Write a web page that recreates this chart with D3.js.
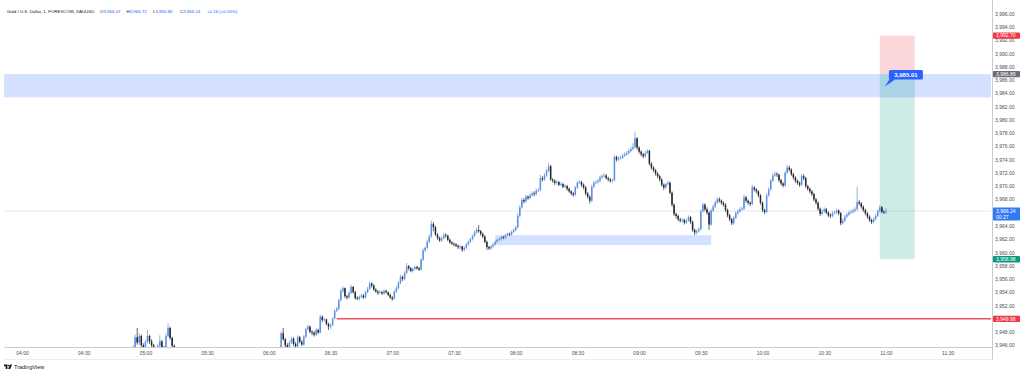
<!DOCTYPE html>
<html><head><meta charset="utf-8">
<script src="https://cdn.jsdelivr.net/npm/d3@7"></script>
<style>
html,body{margin:0;padding:0;background:#fff;}
svg{display:block;font-family:"Liberation Sans",Arial,sans-serif;}
</style></head><body>
<svg id="c" width="1024" height="374"></svg>
<script>
// ---------------- DATA ----------------
const title = "Gold / U.S. Dollar, 1, FOREXCOM_XAUUSD";
const ohlcLabels = ["O", "H", "L", "C"];
const ohlcValues = ["3,966.07", "3,966.72", "3,965.80", "3,966.24"];
const changeText = "+0.16 (+0.00%)";

const priceTicks = [3946,3948,3950,3952,3954,3956,3958,3960,3962,3964,3966,3968,3970,3972,3974,3976,3978,3980,3982,3984,3986,3988,3990,3992,3994,3996];
const timeTicks = ["04:00","04:30","05:00","05:30","06:00","06:30","07:00","07:30","08:00","08:30","09:00","09:30","10:00","10:30","11:00","11:30"];

// segment 1: 1-minute candles from 04:54 (mostly below the visible range)
const seg1Start = "04:54";
const seg1Open = 3943.5;
const seg1Close = [3945.6,3947.2,3946.4,3947.4,3946.0,3945.2,3946.5,3947.4,3946.6,3946.0,3944.6,3944.9,3945.9,3946.6,3945.6,3945.0,3947.4,3948.6,3947.1,3945.9,3944.8];
const seg1High  = [3946.0,3947.6,3948.6,3947.8,3947.6,3946.3,3946.8,3948.3,3947.6,3946.9,3946.2,3945.5,3946.2,3947.5,3946.8,3945.9,3947.8,3949.3,3948.8,3947.3,3946.1];
const seg1Low   = [3943.2,3945.3,3946.1,3946.0,3945.6,3944.8,3945.0,3946.3,3946.2,3945.6,3944.2,3944.3,3944.7,3945.6,3945.1,3944.7,3944.9,3947.2,3946.8,3945.6,3944.4];

// segment 2: 1-minute candles from 06:06 to 11:00
const seg2Start = "06:06";
const seg2Open = 3945.2;
const seg2Close = [
3947.8,3946.9,3946.0,3945.5,3946.4,3947.0,3946.2,3945.8,3947.2,3946.5,
3946.1,3947.3,3948.4,3948.8,3948.0,3947.9,3947.6,3948.3,3947.9,3950.3,
3949.8,3949.9,3949.2,3948.8,3949.0,3950.0,3951.2,3951.5,3952.8,3954.2,
3954.6,3953.4,3953.2,3953.9,3954.8,3954.0,3953.1,3953.0,3953.3,3953.5,
3953.2,3954.0,3954.5,3955.3,3955.0,3954.4,3954.1,3953.9,3954.0,3953.8,
3954.2,3954.0,3953.6,3953.2,3953.0,3954.1,3954.6,3955.4,3956.3,3956.0,
3956.9,3957.9,3957.6,3957.2,3957.5,3957.8,3957.6,3957.4,3958.9,3960.3,
3960.7,3961.6,3962.4,3964.3,3963.8,3962.7,3962.2,3961.8,3962.1,3962.6,
3962.5,3961.9,3961.5,3961.3,3961.2,3961.0,3960.8,3960.9,3960.4,3960.7,
3961.2,3961.6,3962.0,3962.5,3963.0,3963.4,3963.2,3962.8,3962.4,3961.6,
3960.8,3960.6,3960.9,3961.2,3961.6,3961.9,3962.0,3962.3,3962.2,3962.6,
3962.8,3962.7,3963.1,3963.4,3963.8,3965.5,3966.8,3967.9,3967.7,3968.4,
3968.2,3968.6,3968.9,3968.8,3969.3,3969.4,3971.2,3971.0,3971.6,3972.3,
3973.0,3971.0,3970.8,3970.5,3970.6,3970.2,3970.3,3969.9,3970.0,3969.6,
3969.2,3968.9,3968.7,3969.8,3970.5,3970.6,3970.2,3969.8,3968.9,3968.4,
3967.8,3969.9,3970.5,3970.6,3970.8,3971.3,3971.5,3971.6,3971.2,3971.0,
3970.8,3970.9,3974.4,3974.0,3974.2,3974.3,3974.6,3974.8,3975.0,3975.3,
3975.6,3975.9,3977.2,3975.8,3975.2,3974.8,3974.5,3975.0,3975.3,3973.4,
3972.8,3972.4,3971.9,3971.5,3971.0,3970.2,3969.8,3970.3,3970.5,3969.0,
3967.2,3965.8,3965.5,3965.0,3964.8,3964.9,3964.5,3964.8,3965.3,3964.6,
3963.4,3963.0,3963.2,3963.5,3966.2,3967.2,3966.5,3966.0,3964.2,3966.3,
3966.9,3967.5,3968.0,3967.8,3967.5,3967.2,3966.4,3965.6,3965.0,3964.4,
3965.2,3965.9,3966.2,3966.5,3966.6,3968.3,3967.8,3967.5,3967.3,3969.8,
3969.5,3969.2,3968.6,3967.5,3966.4,3966.1,3968.6,3969.5,3970.8,3971.6,
3971.8,3971.7,3970.9,3970.4,3970.1,3972.0,3972.8,3972.5,3971.8,3971.3,
3970.8,3970.5,3970.2,3971.5,3971.2,3970.0,3969.6,3969.2,3968.8,3968.0,
3967.5,3966.6,3965.8,3966.2,3966.5,3966.0,3965.6,3965.5,3965.9,3966.0,
3966.3,3965.9,3964.4,3964.8,3965.4,3965.7,3966.0,3966.1,3966.3,3966.5,
3967.6,3967.4,3966.9,3966.4,3965.9,3965.4,3964.9,3964.6,3965.0,3965.5,
3966.2,3966.8,3966.1,3966.07,3966.24];
const seg2High = [
3948.1,3948.6,3947.1,3946.3,3946.7,3947.3,3947.2,3946.5,3947.5,3947.4,
3946.8,3947.5,3948.6,3949.1,3949.0,3948.3,3948.1,3948.6,3948.5,3950.6,
3950.5,3950.2,3950.0,3949.4,3949.3,3950.2,3951.4,3951.8,3953.0,3954.5,
3954.9,3954.7,3953.6,3954.2,3955.1,3954.9,3954.2,3953.4,3953.5,3953.8,
3953.7,3954.2,3954.8,3955.6,3955.5,3955.2,3954.6,3954.3,3954.3,3954.2,
3954.4,3954.4,3954.1,3953.8,3953.4,3954.3,3954.9,3955.7,3956.6,3956.5,
3957.2,3958.4,3958.1,3957.8,3957.7,3958.0,3958.0,3957.8,3959.1,3960.6,
3960.9,3961.9,3962.7,3964.8,3964.6,3964.0,3962.9,3962.4,3962.4,3962.9,
3962.9,3962.7,3962.1,3961.7,3961.5,3961.4,3961.2,3961.1,3961.0,3960.9,
3961.4,3961.8,3962.2,3962.7,3963.3,3963.7,3964.1,3963.4,3963.0,3962.6,
3961.8,3961.0,3961.1,3961.4,3961.8,3962.1,3962.2,3962.5,3962.5,3962.8,
3963.0,3963.0,3963.3,3963.6,3964.0,3965.9,3967.1,3968.2,3968.2,3968.7,
3968.6,3968.9,3969.2,3969.2,3969.6,3969.7,3971.7,3971.5,3971.9,3972.6,
3973.4,3973.2,3971.2,3971.0,3970.9,3970.8,3970.6,3970.5,3970.3,3970.2,
3969.8,3969.4,3969.1,3970.0,3970.8,3970.9,3970.8,3970.4,3970.0,3969.1,
3968.6,3970.2,3970.8,3970.9,3971.1,3971.6,3971.8,3971.9,3971.8,3971.4,
3971.2,3971.1,3974.7,3974.6,3974.5,3974.6,3974.9,3975.1,3975.3,3975.6,
3975.9,3976.5,3978.2,3977.4,3976.0,3975.4,3975.0,3975.3,3975.6,3975.5,
3973.6,3973.0,3972.6,3972.1,3971.7,3971.2,3970.4,3970.5,3970.8,3970.7,
3969.2,3967.4,3966.0,3965.7,3965.2,3965.2,3965.1,3965.0,3965.6,3965.5,
3964.8,3963.6,3963.5,3963.8,3966.5,3967.5,3967.4,3966.8,3966.2,3966.6,
3967.2,3967.8,3968.3,3968.3,3968.0,3967.7,3967.4,3966.6,3965.8,3965.2,
3965.5,3966.2,3966.5,3966.8,3966.9,3968.7,3968.5,3968.0,3967.7,3970.2,
3970.0,3969.7,3969.4,3968.8,3967.7,3966.6,3968.9,3969.8,3971.1,3971.9,
3972.2,3972.1,3971.9,3971.1,3970.6,3972.3,3973.2,3973.1,3972.7,3972.0,
3971.5,3971.0,3970.7,3971.8,3971.8,3971.4,3970.2,3969.8,3969.4,3969.0,
3968.2,3967.7,3966.8,3966.5,3966.8,3966.7,3966.2,3965.9,3966.2,3966.3,
3966.6,3966.5,3966.1,3965.1,3965.7,3966.0,3966.3,3966.4,3966.6,3966.8,
3969.9,3967.9,3967.6,3967.1,3966.6,3966.1,3965.6,3965.1,3965.3,3965.8,
3966.5,3967.1,3967.0,3966.4,3966.72];
const seg2Low = [
3945.0,3946.7,3945.7,3945.2,3945.3,3946.2,3945.9,3945.5,3945.6,3946.3,
3945.9,3945.9,3947.1,3948.2,3947.8,3947.5,3947.3,3947.4,3947.7,3947.8,
3949.5,3949.6,3949.0,3948.3,3948.5,3948.9,3949.9,3951.0,3951.3,3952.6,
3953.9,3953.1,3952.9,3953.0,3953.7,3953.8,3952.9,3952.8,3952.8,3953.1,
3953.0,3953.1,3953.8,3954.3,3954.7,3954.2,3953.9,3953.6,3953.7,3953.6,
3953.6,3953.8,3953.4,3953.0,3952.7,3952.9,3953.9,3954.4,3955.2,3955.7,
3955.8,3956.7,3957.3,3957.0,3957.0,3957.3,3957.4,3957.2,3957.3,3958.7,
3960.1,3960.5,3961.4,3962.2,3963.2,3962.5,3961.9,3961.6,3961.6,3962.0,
3962.2,3961.7,3961.3,3961.1,3960.9,3960.8,3960.5,3960.5,3960.1,3960.2,
3960.5,3961.0,3961.4,3961.8,3962.3,3962.8,3963.0,3962.5,3962.1,3961.4,
3960.4,3960.4,3960.4,3960.7,3961.0,3961.4,3961.7,3961.8,3962.0,3962.0,
3962.4,3962.5,3962.5,3962.9,3963.2,3963.6,3965.3,3966.6,3967.4,3967.5,
3967.9,3968.0,3968.4,3968.5,3968.6,3969.1,3969.2,3970.7,3970.8,3971.4,
3972.1,3970.8,3970.5,3970.2,3970.2,3970.0,3970.0,3969.7,3969.7,3969.3,
3969.0,3968.6,3968.4,3968.5,3969.6,3970.3,3969.9,3969.5,3968.6,3968.1,
3967.4,3967.6,3969.7,3970.3,3970.4,3970.6,3971.1,3971.3,3971.0,3970.7,
3970.5,3970.5,3970.7,3973.7,3973.8,3974.0,3974.1,3974.4,3974.6,3974.8,
3975.1,3975.4,3975.7,3975.5,3974.9,3974.5,3974.2,3974.3,3974.8,3973.1,
3972.5,3972.1,3971.6,3971.2,3970.7,3969.9,3969.4,3969.6,3970.1,3968.8,
3966.9,3965.5,3965.1,3964.7,3964.5,3964.5,3964.2,3964.3,3964.6,3964.3,
3963.1,3962.6,3962.7,3963.0,3963.3,3966.0,3966.2,3965.7,3963.4,3964.0,
3966.1,3966.7,3967.3,3967.5,3967.2,3966.9,3966.1,3965.3,3964.7,3964.1,
3964.2,3965.0,3965.7,3966.0,3966.3,3966.4,3967.5,3967.2,3967.0,3967.1,
3969.2,3968.9,3968.3,3967.2,3966.1,3965.8,3965.9,3968.4,3969.3,3970.6,
3971.4,3971.4,3970.6,3970.1,3969.8,3969.9,3971.8,3972.2,3971.5,3971.0,
3970.5,3970.2,3969.9,3970.0,3970.9,3969.7,3969.3,3968.9,3968.5,3967.7,
3967.2,3966.3,3965.5,3965.6,3966.0,3965.8,3965.3,3965.2,3965.3,3965.7,
3965.8,3965.6,3964.1,3964.2,3964.6,3965.2,3965.5,3965.8,3965.9,3966.1,
3966.3,3967.1,3966.6,3966.1,3965.6,3965.1,3964.6,3964.3,3964.4,3964.8,
3965.3,3966.0,3965.9,3965.8,3965.80];

// drawings
const zoneBandPrices = [3986.89, 3983.4];
const zoneBoxTimes = ["07:50", "09:35"];
const zoneBoxPrices = [3962.6, 3961.1];
const stopLineStart = "06:33";
const stopLinePrice = 3949.98;
const positionTimes = ["10:57", "11:14"];
const positionPrices = [3992.70, 3986.89, 3958.98]; // target, entry, stop
const calloutTime = "10:59.5";
const calloutPrice = 3985.01;
const lastPrice = 3966.24;
const countdown = "00:27";
const axisMarkPrices = [3992.70, 3986.89, 3958.98, 3949.98];
const axisMarkKinds = ["red", "grey", "green", "red"];

// ---------------- CHART ----------------
const toMin = s => { const [h, m] = s.split(":"); return +h * 60 + +m; };
const W = 1024, H = 374;
const plot = {l: 4, r: 991, t: 4, b: 347};
const svg = d3.select("#c");

const x = d3.scaleLinear().domain([231.25, 711.07]).range([plot.l, plot.r]);
const y = d3.scaleLinear().domain([3945.735, 3997.469]).range([plot.b, plot.t]);

function build(start, open0, C, Hh, L) {
  const s = toMin(start);
  return C.map((c, i) => ({t: s + i, o: i === 0 ? open0 : C[i - 1], h: Hh[i], l: L[i], c}));
}
const candles = build(seg1Start, seg1Open, seg1Close, seg1High, seg1Low)
  .concat(build(seg2Start, seg2Open, seg2Close, seg2High, seg2Low));

svg.append("rect").attr("width", W).attr("height", H).attr("fill", "#ffffff");

svg.append("defs").append("clipPath").attr("id", "pc")
  .append("rect").attr("x", plot.l).attr("y", 0).attr("width", plot.r - plot.l).attr("height", plot.b);

const g = svg.append("g").attr("clip-path", "url(#pc)");

// blue horizontal zone
g.append("rect").attr("x", plot.l).attr("width", plot.r - plot.l)
  .attr("y", y(zoneBandPrices[0])).attr("height", y(zoneBandPrices[1]) - y(zoneBandPrices[0]))
  .attr("fill", "rgba(41,98,255,0.2)");

// small zone box
g.append("rect").attr("x", x(toMin(zoneBoxTimes[0]))).attr("width", x(toMin(zoneBoxTimes[1])) - x(toMin(zoneBoxTimes[0])))
  .attr("y", y(zoneBoxPrices[0])).attr("height", y(zoneBoxPrices[1]) - y(zoneBoxPrices[0]))
  .attr("fill", "rgba(41,98,255,0.2)");

// last price line
g.append("line").attr("x1", plot.l).attr("x2", plot.r).attr("y1", y(lastPrice)).attr("y2", y(lastPrice))
  .attr("stroke", "#e4e9f2").attr("stroke-width", 1);

// position tool
const px0 = x(toMin(positionTimes[0])), px1 = x(toMin(positionTimes[1]));
g.append("rect").attr("x", px0).attr("width", px1 - px0)
  .attr("y", y(positionPrices[0])).attr("height", y(positionPrices[1]) - y(positionPrices[0]))
  .attr("fill", "rgba(242,54,69,0.2)");
g.append("rect").attr("x", px0).attr("width", px1 - px0)
  .attr("y", y(positionPrices[1])).attr("height", y(positionPrices[2]) - y(positionPrices[1]))
  .attr("fill", "rgba(8,153,129,0.2)");

// candles
const upC = "#5a8fe3", dnC = "#22252c";
const cg = g.append("g");
cg.selectAll("line.w").data(candles).join("line").attr("class", "w")
  .attr("x1", d => x(d.t)).attr("x2", d => x(d.t))
  .attr("y1", d => y(d.h)).attr("y2", d => y(d.l))
  .attr("stroke", d => d.c >= d.o ? upC : dnC).attr("stroke-width", 0.7);
cg.selectAll("rect.b").data(candles).join("rect").attr("class", "b")
  .attr("x", d => x(d.t) - 0.75).attr("width", 1.5)
  .attr("y", d => y(Math.max(d.o, d.c)))
  .attr("height", d => Math.max(0.8, Math.abs(y(d.o) - y(d.c))))
  .attr("fill", d => d.c >= d.o ? upC : dnC);

// stop line (drawn above candles)
g.append("line").attr("x1", x(toMin(stopLineStart))).attr("x2", plot.r)
  .attr("y1", y(stopLinePrice)).attr("y2", y(stopLinePrice))
  .attr("stroke", "#ef4f5c").attr("stroke-width", 1.5);

// callout
const cx = x(toMin(calloutTime.split(".")[0]) + 0.5), cy = y(calloutPrice);
svg.append("path").attr("d", `M${cx},${cy} L${cx + 5},${cy - 8} L${cx + 10},${cy - 7} Z`).attr("fill", "#2962ff");
svg.append("rect").attr("x", cx + 4).attr("y", cy - 16.5).attr("width", 34).attr("height", 9.5).attr("rx", 1.5).attr("fill", "#2962ff");
svg.append("text").attr("x", cx + 21).attr("y", cy - 9.6).attr("text-anchor", "middle")
  .attr("font-size", 6).attr("font-weight", "bold").attr("fill", "#fff").text(d3.format(",.2f")(calloutPrice));

// frame lines
svg.append("line").attr("x1", plot.l).attr("x2", plot.r + 1).attr("y1", plot.b + 0.5).attr("y2", plot.b + 0.5).attr("stroke", "#c9ccd3");
svg.append("line").attr("x1", plot.l).attr("x2", plot.r + 1).attr("y1", 359.5).attr("y2", 359.5).attr("stroke", "#eceef2");
svg.append("line").attr("x1", plot.r + 1.5).attr("x2", plot.r + 1.5).attr("y1", 0).attr("y2", 359.5).attr("stroke", "#c9ccd3");

// price axis
const ya = svg.append("g").attr("transform", `translate(${plot.r + 4},0)`)
  .call(d3.axisRight(y).tickValues(priceTicks).tickSize(0).tickPadding(0).tickFormat(d3.format(",.2f")));
ya.select(".domain").remove();
ya.selectAll("text").attr("font-size", 5).attr("fill", "#4a4d57").attr("font-family", "Liberation Sans, Arial, sans-serif");

// time axis
const xa = svg.append("g").attr("transform", `translate(0,${plot.b + 4})`)
  .call(d3.axisBottom(x).tickValues(timeTicks.map(toMin)).tickSize(0).tickPadding(0)
    .tickFormat((d, i) => timeTicks[i]));
xa.select(".domain").remove();
xa.selectAll("text").attr("font-size", 5).attr("fill", "#4a4d57").attr("font-family", "Liberation Sans, Arial, sans-serif");

// axis markers
const markColor = {red: "#f23645", grey: "#6b6e78", green: "#089981"};
axisMarkPrices.forEach((p, i) => {
  const yy = y(p);
  svg.append("rect").attr("x", plot.r + 2).attr("y", yy - 3.2).attr("width", 27).attr("height", 6.4).attr("rx", 0.8)
    .attr("fill", markColor[axisMarkKinds[i]]);
  svg.append("text").attr("x", plot.r + 5).attr("y", yy + 1.8).attr("font-size", 5).attr("fill", "#fff")
    .text(d3.format(",.2f")(p));
});
// last price marker
const ly = y(lastPrice);
svg.append("rect").attr("x", plot.r + 2).attr("y", ly - 3.5).attr("width", 27).attr("height", 13).attr("rx", 0.8).attr("fill", "#3179f5");
svg.append("text").attr("x", plot.r + 5).attr("y", ly + 1.8).attr("font-size", 5).attr("fill", "#fff").text(d3.format(",.2f")(lastPrice));
svg.append("text").attr("x", plot.r + 5).attr("y", ly + 7.8).attr("font-size", 5).attr("fill", "#fff").text(countdown);

// header
const hd = svg.append("text").attr("y", 12.5).attr("font-size", 4.4).attr("fill", "#131722");
hd.append("tspan").attr("x", 7).text(title);
const hx = [100, 126.5, 153, 180];
ohlcLabels.forEach((l, i) => {
  hd.append("tspan").attr("x", hx[i]).attr("fill", "#131722").text(l);
  hd.append("tspan").attr("fill", "#2962ff").text(ohlcValues[i]);
});
hd.append("tspan").attr("x", 207).attr("fill", "#2962ff").text(changeText);

// TradingView logo
const lg = svg.append("g").attr("fill", "#131722");
lg.append("path").attr("d", "M4,364.6h3.4v4.3h-1.7v-2.6h-1.7z");
lg.append("circle").attr("cx", 8.5).attr("cy", 365.5).attr("r", 0.85);
lg.append("path").attr("d", "M10,364.6h2.1l-1.8,4.3h-2.1z");
svg.append("text").attr("x", 14).attr("y", 368.6).attr("font-size", 5.5).attr("fill", "#131722").text("TradingView");
</script>
</body></html>
